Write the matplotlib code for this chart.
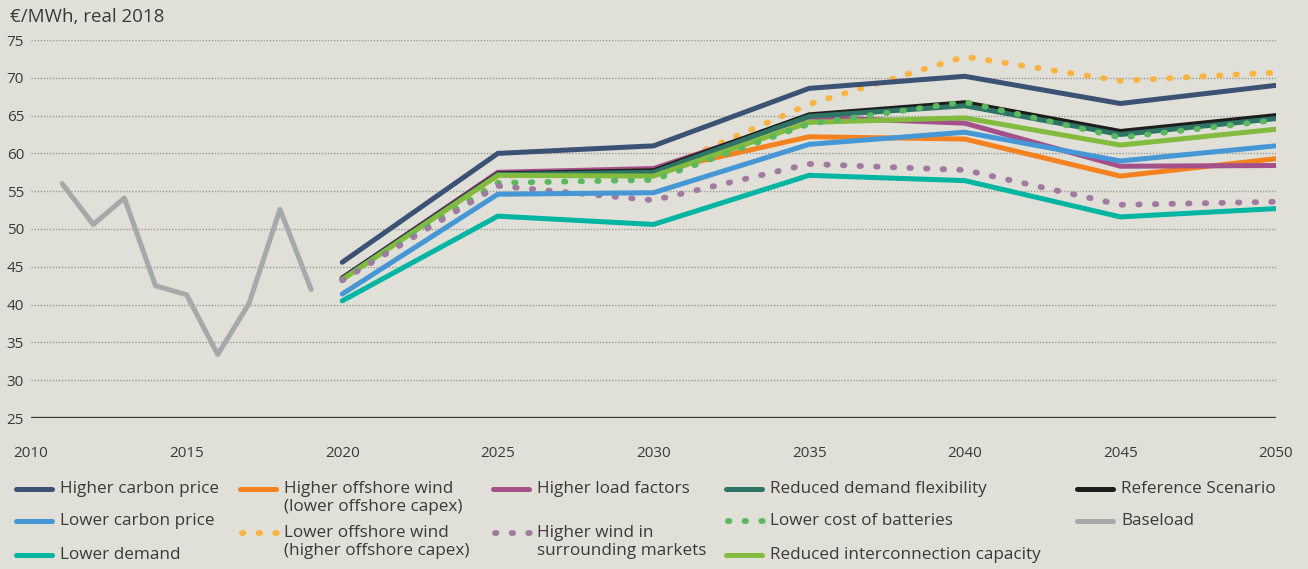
import matplotlib
matplotlib.use("Agg")
import matplotlib.pyplot as plt
from matplotlib.lines import Line2D

plt.rcParams['font.family'] = ['Open Sans', 'DejaVu Sans']

# historical baseload price
hist_years = [2011, 2012, 2013, 2014, 2015, 2016, 2017, 2018, 2019]
baseload = [56.0, 50.6, 54.1, 42.5, 41.3, 33.4, 40.1, 52.6, 42.0]

# scenario projections
years = [2020, 2025, 2030, 2035, 2040, 2045, 2050]
higher_carbon = [45.6, 60.0, 61.0, 68.6, 70.2, 66.6, 69.0]
lower_carbon = [41.4, 54.6, 54.8, 61.2, 62.8, 59.0, 61.0]
lower_demand = [40.5, 51.7, 50.6, 57.1, 56.4, 51.6, 52.7]
higher_offshore = [43.5, 57.2, 57.6, 62.2, 61.9, 57.0, 59.3]
lower_offshore = [43.4, 57.0, 57.5, 66.5, 72.8, 69.6, 70.7]
higher_load = [43.5, 57.5, 58.0, 64.8, 64.0, 58.3, 58.4]
higher_wind_surr = [43.2, 55.7, 53.8, 58.6, 57.8, 53.2, 53.6]
reduced_flex = [43.4, 57.2, 57.5, 64.9, 66.3, 62.5, 64.6]
lower_batteries = [43.3, 56.1, 56.5, 63.9, 66.8, 62.1, 64.4]
reduced_interconn = [43.3, 57.1, 57.0, 64.1, 64.7, 61.1, 63.2]
reference = [43.5, 57.3, 57.7, 65.1, 66.7, 62.9, 65.0]

BG = '#e0dfd8'
TXT = '#3a3a3a'
dots = (0, (0.25, 2.6))

# label, data, colour, linestyle, legend slot (col, row)
series = [
    ("Lower offshore wind\n(higher offshore capex)", lower_offshore, '#fbb441', dots, (1, 1)),
    ("Higher offshore wind\n(lower offshore capex)", higher_offshore, '#f5821f', '-', (1, 0)),
    ("Higher load factors", higher_load, '#a3508b', '-', (2, 0)),
    ("Reference Scenario", reference, '#1d1d1b', '-', (4, 0)),
    ("Reduced demand flexibility", reduced_flex, '#2e7566', '-', (3, 0)),
    ("Reduced interconnection capacity", reduced_interconn, '#82bb3e', '-', (3, 2)),
    ("Lower cost of batteries", lower_batteries, '#5cb85f', dots, (3, 1)),
    ("Higher wind in\nsurrounding markets", higher_wind_surr, '#a07a9f', dots, (2, 1)),
    ("Lower carbon price", lower_carbon, '#4597d5', '-', (0, 1)),
    ("Lower demand", lower_demand, '#00b5a1', '-', (0, 2)),
    ("Higher carbon price", higher_carbon, '#3b5274', '-', (0, 0)),
]

W, H = 1308, 569
fig = plt.figure(figsize=(W / 100, H / 100), dpi=100, facecolor=BG)
ax = fig.add_axes([31 / W, 1 - 418 / H, (1276 - 31) / W, (418 - 40) / H])
ax.set_facecolor(BG)

ax.plot(hist_years, baseload, color='#a7a8aa', lw=3.6, solid_capstyle='round',
        solid_joinstyle='round')
for label, vals, col, ls, slot in series:
    lw = 4.2 if ls is dots else 3.6
    ax.plot(years, vals, color=col, lw=lw, linestyle=ls, solid_capstyle='round',
            dash_capstyle='round', solid_joinstyle='miter')

ax.set_xlim(2010, 2050)
ax.set_ylim(25, 75)
ax.set_xticks(range(2010, 2051, 5))
ax.set_yticks(range(25, 76, 5))
for y in range(30, 76, 5):
    ax.axhline(y, color='#9a9a96', lw=1.0, linestyle=(0, (1, 1.2)), zorder=0)
ax.axhline(25, color='#3c3c3c', lw=2.4, zorder=1)
for s in ax.spines.values():
    s.set_visible(False)
ax.tick_params(axis='both', length=0, labelsize=11, labelcolor=TXT)
ax.tick_params(axis='x', pad=20)
ax.tick_params(axis='y', pad=5)

fig.text(10 / W, 1 - 17 / H, "€/MWh, real 2018", fontsize=13.5, color=TXT,
         ha='left', va='center')

# legend laid out by hand: column x of handle start, row y of first text line
col_x = [14, 238, 491, 724, 1075]
row_y = [489, 521, 555]
row_y_two = [489, 533]
legend_items = [(lab, col, ls, slot) for lab, v, col, ls, slot in series]
legend_items.append(("Baseload", '#a7a8aa', '-', (4, 1)))
for lab, col, ls, (c, r) in legend_items:
    x0 = col_x[c]
    if c in (1, 2) and r == 1:
        y = row_y_two[1]
    elif c == 1:
        y = row_y_two[r]
    else:
        y = row_y[r]
    yy = 1 - y / H
    if ls is dots:
        fig.add_artist(Line2D([(x0 + 4) / W, (x0 + 40) / W], [yy, yy], color=col, lw=4.2,
                              linestyle=(0, (0.25, 2.6)), dash_capstyle='round'))
    else:
        fig.add_artist(Line2D([(x0 + 2) / W, (x0 + 38) / W], [yy, yy], color=col, lw=3.6,
                              linestyle=ls, solid_capstyle='round'))
    fig.text((x0 + 46) / W, yy + 8 / H, lab, fontsize=12.3, color=TXT, ha='left',
             va='top', linespacing=1.15)

fig.savefig("out.png", dpi=100, facecolor=BG)
